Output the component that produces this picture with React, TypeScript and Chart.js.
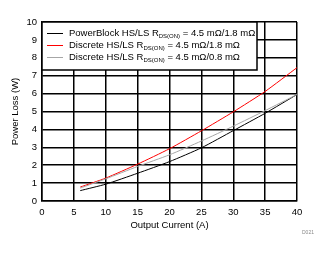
import React, { useEffect, useRef } from "react";
import { Chart, registerables } from "chart.js";

Chart.register(...registerables);

const currents = [6, 10, 15, 20, 25, 30, 35, 40];
const powerBlockLoss = [0.58, 0.94, 1.55, 2.2, 2.97, 3.93, 4.9, 5.95];
const discrete18Loss = [0.78, 1.28, 2.06, 2.92, 3.92, 4.98, 6.12, 7.45];
const discrete08Loss = [0.72, 1.24, 1.93, 2.58, 3.35, 4.18, 5.05, 5.95];

const seriesNames = ["PowerBlock HS/LS", "Discrete HS/LS", "Discrete HS/LS"];
const rdsValues = ["4.5 mΩ/1.8 mΩ", "4.5 mΩ/1.8 mΩ", "4.5 mΩ/0.8 mΩ"];
const seriesColors = ["#000000", "#ff0000", "#a6a6a6"];
const xTitle = "Output Current (A)";
const yTitle = "Power Loss (W)";
const figureId = "D021";

const FONT = "'Liberation Sans', Arial, sans-serif";

const legendPlugin = {
  id: "tiLegend",
  afterDatasetsDraw(chart: any) {
    const { ctx, chartArea } = chart;
    const x0 = chartArea.left;
    const y0 = chartArea.top;
    ctx.save();
    ctx.fillStyle = "#ffffff";
    ctx.fillRect(x0, y0, 215, 48);
    ctx.strokeStyle = "#000000";
    ctx.lineWidth = 1.5;
    ctx.strokeRect(x0, y0, 215, 48);
    seriesNames.forEach((name, i) => {
      const cy = y0 + 11.5 + i * 12;
      ctx.strokeStyle = seriesColors[i];
      ctx.lineWidth = 1;
      ctx.beginPath();
      ctx.moveTo(x0 + 5, cy);
      ctx.lineTo(x0 + 21, cy);
      ctx.stroke();
      ctx.fillStyle = "#000000";
      ctx.textBaseline = "middle";
      ctx.textAlign = "left";
      ctx.font = `9.5px ${FONT}`;
      let tx = x0 + 27;
      const main = name + " R";
      ctx.fillText(main, tx, cy);
      tx += ctx.measureText(main).width;
      ctx.font = `6px ${FONT}`;
      ctx.fillText("DS(ON)", tx, cy + 2.5);
      tx += ctx.measureText("DS(ON)").width;
      ctx.font = `9.5px ${FONT}`;
      ctx.fillText(" = " + rdsValues[i], tx, cy);
    });
    ctx.fillStyle = "#8a8a8a";
    ctx.font = `5px ${FONT}`;
    ctx.textAlign = "left";
    ctx.fillText(figureId, 302, 233);
    ctx.restore();
  },
};

export default function App() {
  const ref = useRef<HTMLCanvasElement>(null);
  useEffect(() => {
    document.body.style.margin = "0";
    const mk = (vals: number[]) => currents.map((x, i) => ({ x, y: vals[i] }));
    const chart = new Chart(ref.current!, {
      type: "line",
      data: {
        datasets: [
          { label: seriesNames[2], data: mk(discrete08Loss), borderColor: seriesColors[2], borderWidth: 1, pointRadius: 0, tension: 0.2 },
          { label: seriesNames[0], data: mk(powerBlockLoss), borderColor: seriesColors[0], borderWidth: 1, pointRadius: 0, tension: 0.2 },
          { label: seriesNames[1], data: mk(discrete18Loss), borderColor: seriesColors[1], borderWidth: 1, pointRadius: 0, tension: 0.2 },
        ],
      },
      options: {
        animation: false,
        responsive: false,
        layout: { padding: { top: 22, right: 33, left: 0, bottom: 0 } },
        plugins: { legend: { display: false }, tooltip: { enabled: false } },
        scales: {
          x: {
            type: "linear",
            min: 0,
            max: 40,
            ticks: { stepSize: 5, color: "#000", font: { family: FONT, size: 9.5 }, padding: 6, maxRotation: 0 },
            grid: { color: "#000", lineWidth: 1.5, drawTicks: false },
            border: { color: "#000", width: 1.5 },
            title: { display: true, text: xTitle, color: "#000", font: { family: FONT, size: 9.5 }, padding: { top: 0, bottom: 23 } },
            afterFit: (s: any) => { s.height = 53; },
          },
          y: {
            type: "linear",
            min: 0,
            max: 10,
            ticks: { stepSize: 1, color: "#000", font: { family: FONT, size: 9.5 }, padding: 5 },
            grid: { color: "#000", lineWidth: 1.5, drawTicks: false },
            border: { color: "#000", width: 1.5 },
            title: { display: true, text: yTitle, color: "#000", font: { family: FONT, size: 9.5 }, padding: { top: 10, bottom: 0 } },
            afterFit: (s: any) => { s.width = 42; },
          },
        },
      },
      plugins: [legendPlugin],
    });
    return () => chart.destroy();
  }, []);
  return (
    <div style={{ width: 330, height: 254 }}>
      <canvas ref={ref} width={330} height={254} />
    </div>
  );
}
